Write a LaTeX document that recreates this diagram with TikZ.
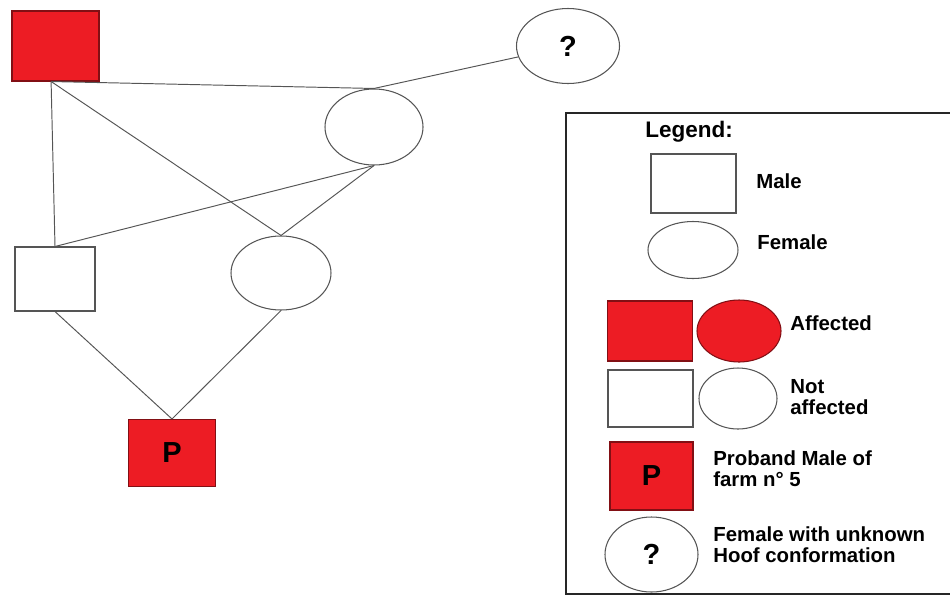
\documentclass[tikz,border=0pt]{standalone}
\usepackage{fontspec}
\setmainfont{Liberation Sans}
\usepackage{tikz}
\usetikzlibrary{shapes.geometric,calc}
\definecolor{affred}{RGB}{237,28,36}
\definecolor{edgegray}{RGB}{85,85,85}

\begin{document}
\begin{tikzpicture}[x=0.02cm,y=-0.02cm,
    sz/.style 2 args={minimum width=#1*0.02cm,minimum height=#2*0.02cm},
    male/.style={rectangle,draw=edgegray,line width=0.6pt},
    female/.style={ellipse,draw=edgegray,line width=0.6pt},
    affected/.style={fill=affred,draw=affred!55!black},
    link/.style={edgegray,line width=0.55pt},
    legtext/.style={anchor=west,align=left,font=\bfseries\fontsize{11.6}{12}\selectfont},
    symtext/.style={font=\bfseries\fontsize{16.5}{16}\selectfont}]
            \tikzstyle{every node}+=[inner sep=0pt]
            \useasboundingbox (0,0) rectangle (950,596);
            % pedigree
            \node [male,affected,sz={87}{70}] (sire) at (55.5,46) {};
            \node [female,sz={103}{75},symtext] (unk) at (568,46) {?};
            \node [female,sz={98}{76}] (dam) at (374,127) {};
            \node [male,sz={80}{64}] (son) at (55,279) {};
            \node [female,sz={100}{74}] (daughter) at (281,273) {};
            \node [male,affected,sz={87}{67},symtext] (proband) at (172,453) {P};
            \coordinate (sirefoot) at ($(sire.south west)!0.45!(sire.south east)$);
            \draw [link] (sirefoot) -- (dam.north);
            \draw [link] (sirefoot) -- (son.north);
            \draw [link] (sirefoot) -- (daughter.north);
            \draw [link] (dam.north) -- (unk);
            \draw [link] (dam.south) -- (son.north);
            \draw [link] (dam.south) -- (daughter.north);
            \draw [link] (son.south) -- (proband.north);
            \draw [link] (daughter.south) -- (proband.north);
            % legend
            \draw [black!85,line width=1.2pt] (566,113) rectangle (980,594);
            \node [legtext,font=\bfseries\fontsize{12.8}{13}\selectfont] (legtitle) at (645,132) {Legend:};
            \node [male,sz={85}{59}] (lmale) at (693.5,183.5) {};
            \node [legtext] (lmaletxt) at (756,181) {Male};
            \node [female,sz={90}{57}] (lfemale) at (693,250) {};
            \node [legtext] (lfemaletxt) at (757,242) {Female};
            \node [male,affected,sz={85}{60}] (laffmale) at (650,331) {};
            \node [female,affected,sz={84}{62}] (lafffemale) at (739,331) {};
            \node [legtext] (lafftxt) at (790,323) {Affected};
            \node [male,sz={85}{57}] (lnotmale) at (650.5,398.5) {};
            \node [female,sz={78}{61}] (lnotfemale) at (738,398.5) {};
            \node [legtext] (lnottxt) at (790,397) {Not\\affected};
            \node [male,affected,sz={83}{68},symtext] (lprob) at (651.5,476) {P};
            \node [legtext] (lprobtxt) at (713,469) {Proband Male of\\farm n° 5};
            \node [female,sz={93}{75},symtext] (lunk) at (651.5,554.5) {?};
            \node [legtext] (lunktxt) at (713,545) {Female with unknown\\Hoof conformation};
            \end{tikzpicture}
\end{document}
